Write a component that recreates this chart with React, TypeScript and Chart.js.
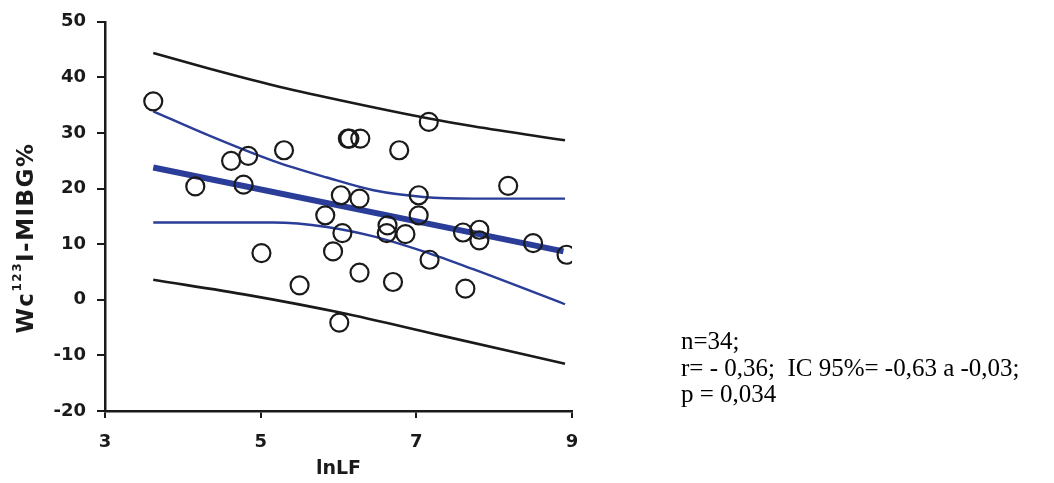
import React, { useEffect, useRef } from "react";
import { Chart, registerables } from "chart.js";

Chart.register(...registerables);

// Scatter points (lnLF, Wc 123I-MIBG%)
const pointX = [3.62, 4.16, 4.62, 4.84, 4.78, 5.30, 5.01, 5.50, 5.83, 6.03, 6.27, 6.05, 5.93, 6.27, 6.12, 6.14, 6.28, 6.78, 7.16, 7.03, 7.03, 6.63, 6.62, 6.86, 6.70, 7.17, 7.60, 7.81, 7.81, 7.63, 8.18, 8.50, 8.93, 6.01];
const pointY = [35.7, 20.4, 25.0, 25.9, 20.7, 26.9, 8.4, 2.6, 15.2, 18.8, 18.2, 12.0, 8.7, 4.9, 29.0, 29.0, 29.0, 26.9, 32.0, 18.8, 15.2, 13.4, 12.0, 11.8, 3.2, 7.2, 12.1, 12.6, 10.7, 2.0, 20.5, 10.2, 8.1, -4.1];

// Regression line
const fitX = [3.62, 8.89];
const fitY = [23.8, 8.7];

// 95% confidence band of the regression (blue)
const ciUpperX = [3.62, 4.31, 5.16, 5.85, 6.45, 7.09, 7.73, 8.91];
const ciUpperY = [33.9, 29.7, 25.0, 22.0, 19.7, 18.5, 18.2, 18.2];
const ciLowerX = [3.62, 5.16, 5.85, 6.45, 7.09, 7.73, 8.91];
const ciLowerY = [13.9, 13.9, 13.1, 11.4, 8.7, 5.5, -0.8];

// 95% prediction band (black)
const piUpperX = [3.62, 4.31, 5.16, 6.02, 7.13, 7.73, 8.91];
const piUpperY = [44.4, 41.7, 38.6, 35.9, 32.7, 31.2, 28.7];
const piLowerX = [3.62, 4.86, 6.02, 7.31, 8.91];
const piLowerY = [3.6, 0.8, -2.3, -6.4, -11.5];

const xTicks = [3, 5, 7, 9];
const yTicks = [-20, -10, 0, 10, 20, 30, 40, 50];
const xTitle = "lnLF";
const yTitleParts = ["Wc", "123", "I-MIBG%"];
const statsLines = ["n=34;", "r= - 0,36;  IC 95%= -0,63 a -0,03;", "p = 0,034"];

const BLUE = "#2a3d98";
const INK = "#1a1a1a";

const zip = (xs: number[], ys: number[]) => xs.map((x, i) => ({ x, y: ys[i] }));

const extraText = {
  id: "extraText",
  afterDraw(chart: any) {
    const ctx: CanvasRenderingContext2D = chart.ctx;
    // Y axis title with superscript
    ctx.save();
    const mainFont = 'bold 23px "DejaVu Sans"';
    const supFont = 'bold 12px "DejaVu Sans"';
    (ctx as any).letterSpacing = "1.5px";
    ctx.font = mainFont;
    const w1 = ctx.measureText(yTitleParts[0]).width;
    ctx.font = supFont;
    const w2 = ctx.measureText(yTitleParts[1]).width;
    ctx.font = mainFont;
    const w3 = ctx.measureText(yTitleParts[2]).width;
    const total = w1 + w2 + w3;
    ctx.translate(33, 238);
    ctx.rotate(-Math.PI / 2);
    ctx.fillStyle = INK;
    ctx.textAlign = "left";
    ctx.textBaseline = "alphabetic";
    let x = -total / 2;
    ctx.font = mainFont;
    ctx.fillText(yTitleParts[0], x, 0);
    x += w1;
    ctx.font = supFont;
    ctx.fillText(yTitleParts[1], x, -12);
    x += w2;
    ctx.font = mainFont;
    ctx.fillText(yTitleParts[2], x, 0);
    ctx.restore();

    // Statistics text
    ctx.save();
    ctx.font = '25px "Liberation Serif"';
    ctx.fillStyle = "#000";
    ctx.textAlign = "left";
    ctx.textBaseline = "alphabetic";
    statsLines.forEach((line, i) => {
      ctx.fillText(line, 681, 349 + i * 26.5);
    });
    ctx.restore();
  },
};

export default function App() {
  const canvasRef = useRef<HTMLCanvasElement | null>(null);

  useEffect(() => {
    if (!canvasRef.current) return;
    const lineDs = (label: string, data: any[], color: string, width: number) => ({
      label,
      data,
      showLine: true,
      borderColor: color,
      backgroundColor: color,
      borderWidth: width,
      pointRadius: 0,
      cubicInterpolationMode: "monotone" as const,
      fill: false,
      order: 2,
    });
    const chart = new Chart(canvasRef.current, {
      type: "scatter",
      data: {
        datasets: [
          {
            label: "points",
            data: zip(pointX, pointY),
            showLine: false,
            pointStyle: "circle",
            pointRadius: 9,
            pointBorderWidth: 2.2,
            pointBorderColor: INK,
            pointBackgroundColor: "rgba(0,0,0,0)",
            order: 1,
          },
          lineDs("fit", zip(fitX, fitY), BLUE, 6),
          lineDs("ciUpper", zip(ciUpperX, ciUpperY), BLUE, 2.4),
          lineDs("ciLower", zip(ciLowerX, ciLowerY), BLUE, 2.4),
          lineDs("piUpper", zip(piUpperX, piUpperY), INK, 2.6),
          lineDs("piLower", zip(piLowerX, piLowerY), INK, 2.6),
        ],
      },
      options: {
        animation: false,
        responsive: true,
        maintainAspectRatio: false,
        layout: { padding: { top: 17, right: 482, bottom: 0, left: 0 } },
        plugins: {
          legend: { display: false },
          tooltip: { enabled: false },
        },
        scales: {
          x: {
            type: "linear",
            min: 3,
            max: 9,
            afterBuildTicks: (s: any) => {
              s.ticks = xTicks.map((v) => ({ value: v }));
            },
            afterFit: (s: any) => {
              s.height = 72;
            },
            grid: {
              display: true,
              drawOnChartArea: false,
              drawTicks: true,
              tickLength: 7,
              color: INK,
              lineWidth: 2,
            },
            border: { display: true, color: INK, width: 2.5 },
            ticks: {
              color: INK,
              padding: 14,
              font: { family: "DejaVu Sans", size: 18, weight: "bold" },
            },
            title: {
              display: true,
              text: xTitle,
              color: INK,
              font: { family: "DejaVu Sans", size: 19, weight: "bold" },
              padding: { top: 0, bottom: 3 },
            },
          },
          y: {
            type: "linear",
            min: -20,
            max: 50,
            afterBuildTicks: (s: any) => {
              s.ticks = yTicks.map((v) => ({ value: v }));
            },
            afterFit: (s: any) => {
              s.width = 105;
            },
            grid: {
              display: true,
              drawOnChartArea: false,
              drawTicks: true,
              tickLength: 8,
              color: INK,
              lineWidth: 2,
            },
            border: { display: true, color: INK, width: 2.5 },
            ticks: {
              color: INK,
              padding: 11,
              font: { family: "DejaVu Sans", size: 18, weight: "bold" },
            },
          },
        },
      },
      plugins: [extraText],
    });
    return () => chart.destroy();
  }, []);

  return (
    <div
      style={{
        position: "fixed",
        left: 0,
        top: 0,
        width: 1054,
        height: 483,
        background: "#fff",
      }}
    >
      <canvas ref={canvasRef} />
    </div>
  );
}
